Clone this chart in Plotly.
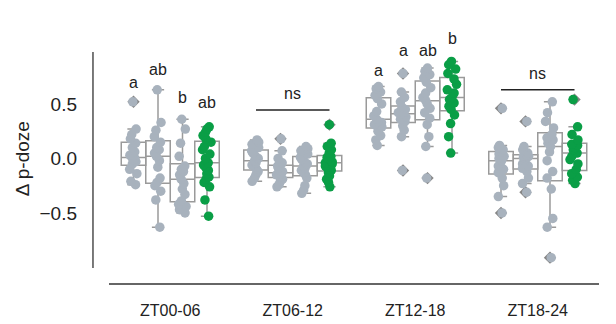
import plotly.graph_objects as go

groups = ["ZT00-06", "ZT06-12", "ZT12-18", "ZT18-24"]

# series 1 (gray)
s1_zt00 = [-0.24, -0.21, -0.14, -0.10, -0.05, -0.03, -0.01, 0.0, 0.01, 0.03, 0.06, 0.10, 0.14, 0.18, 0.22, 0.27, 0.52]
s1_zt06 = [-0.21, -0.18, -0.15, -0.12, -0.10, -0.08, -0.06, -0.04, -0.02, 0.0, 0.02, 0.05, 0.07, 0.10, 0.13, 0.15, 0.17]
s1_zt12 = [0.12, 0.17, 0.21, 0.25, 0.29, 0.31, 0.33, 0.34, 0.36, 0.39, 0.43, 0.50, 0.55, 0.58, 0.61, 0.64, 0.66]
s1_zt18 = [-0.50, -0.35, -0.25, -0.18, -0.13, -0.10, -0.07, -0.04, -0.02, 0.0, 0.02, 0.04, 0.06, 0.08, 0.10, 0.12, 0.46]
# series 2 (gray)
s2_zt00 = [-0.63, -0.38, -0.30, -0.25, -0.22, -0.18, -0.08, -0.02, 0.02, 0.05, 0.08, 0.10, 0.15, 0.20, 0.26, 0.33, 0.63]
s2_zt06 = [-0.26, -0.24, -0.21, -0.19, -0.17, -0.16, -0.15, -0.14, -0.13, -0.12, -0.11, -0.09, -0.07, -0.04, 0.0, 0.07, 0.18]
s2_zt12 = [-0.11, 0.20, 0.26, 0.30, 0.34, 0.36, 0.38, 0.40, 0.41, 0.42, 0.44, 0.45, 0.47, 0.52, 0.56, 0.61, 0.78]
s2_zt18 = [-0.31, -0.23, -0.18, -0.12, -0.09, -0.07, -0.05, -0.02, 0.0, 0.01, 0.02, 0.025, 0.03, 0.05, 0.08, 0.11, 0.34]
# series 3 (gray)
s3_zt00 = [-0.50, -0.47, -0.44, -0.42, -0.39, -0.33, -0.28, -0.23, -0.19, -0.15, -0.12, -0.10, -0.07, 0.02, 0.14, 0.27, 0.36]
s3_zt06 = [-0.32, -0.29, -0.25, -0.18, -0.15, -0.13, -0.11, -0.09, -0.07, -0.05, -0.03, -0.01, 0.01, 0.04, 0.07, 0.09, 0.11]
s3_zt12 = [-0.18, 0.11, 0.20, 0.31, 0.37, 0.42, 0.46, 0.50, 0.53, 0.56, 0.60, 0.65, 0.70, 0.74, 0.77, 0.80, 0.83]
s3_zt18 = [-0.91, -0.63, -0.55, -0.28, -0.18, -0.12, -0.02, 0.06, 0.11, 0.14, 0.17, 0.19, 0.22, 0.28, 0.34, 0.42, 0.52]
# series 4 (green)
s4_zt00 = [-0.53, -0.38, -0.26, -0.22, -0.19, -0.17, -0.14, -0.11, -0.08, -0.06, -0.04, 0.0, 0.04, 0.08, 0.11, 0.15, 0.18, 0.21, 0.24, 0.27, 0.29]
s4_zt06 = [-0.26, -0.22, -0.19, -0.16, -0.13, -0.11, -0.10, -0.08, -0.07, -0.05, -0.04, -0.03, -0.02, 0.0, 0.01, 0.02, 0.05, 0.08, 0.11, 0.14, 0.31]
s4_zt12 = [0.05, 0.20, 0.32, 0.40, 0.45, 0.48, 0.51, 0.54, 0.56, 0.60, 0.63, 0.68, 0.73, 0.78, 0.82, 0.86, 0.89]
s4_zt18 = [-0.23, -0.20, -0.17, -0.14, -0.10, -0.05, -0.01, 0.02, 0.05, 0.08, 0.10, 0.12, 0.13, 0.17, 0.22, 0.29, 0.54]

series = [
    [s1_zt00, s1_zt06, s1_zt12, s1_zt18],
    [s2_zt00, s2_zt06, s2_zt12, s2_zt18],
    [s3_zt00, s3_zt06, s3_zt12, s3_zt18],
    [s4_zt00, s4_zt06, s4_zt12, s4_zt18],
]
point_colors = ["#a8b2bd", "#a8b2bd", "#a8b2bd", "#0a9e46"]

# significance letters: (x position in category units, y value, text)
letter_x = [-0.3, -0.1, 0.1, 0.3, 1.7, 1.9, 2.1, 2.3]
letter_y = [0.70, 0.82, 0.56, 0.51, 0.81, 0.99, 0.99, 1.105]
letter_t = ["a", "ab", "b", "ab", "a", "a", "ab", "b"]
ns_x0 = [0.7, 2.7]
ns_x1 = [1.3, 3.3]
ns_line_y = [0.445, 0.63]
ns_text_y = [0.60, 0.78]

Y_RANGE = [-1.005, 0.977]
FONT = "Liberation Sans, Arial, sans-serif"


def to_paper(v):
    return (v - Y_RANGE[0]) / (Y_RANGE[1] - Y_RANGE[0])


fig = go.Figure()

# boxes with diamond fliers (main axes)
for h, vals in enumerate(series):
    xs, ys = [], []
    for g, v in zip(groups, vals):
        xs += [g] * len(v)
        ys += v
    fig.add_trace(go.Box(
        x=xs, y=ys, offsetgroup=str(h), boxpoints="outliers", jitter=0, pointpos=0,
        marker=dict(symbol="diamond", size=9.5, color="#858585"),
        line=dict(color="#9a9a9a", width=1.5), fillcolor="rgba(0,0,0,0)",
        whiskerwidth=0.5, showlegend=False, hoverinfo="skip",
        xaxis="x", yaxis="y",
    ))

# strip points on an overlaying axis so they are drawn above the fliers
for h, vals in enumerate(series):
    xs, ys = [], []
    for g, v in zip(groups, vals):
        xs += [g] * len(v)
        ys += v
    fig.add_trace(go.Box(
        x=xs, y=ys, offsetgroup=str(h), boxpoints="all", jitter=0.4, pointpos=0,
        marker=dict(size=9.5, color=point_colors[h], opacity=1),
        line=dict(color="rgba(0,0,0,0)", width=0), fillcolor="rgba(0,0,0,0)",
        showlegend=False, hoverinfo="skip",
        xaxis="x2", yaxis="y",
    ))

annotations = []
for x, y, t in zip(letter_x, letter_y, letter_t):
    annotations.append(dict(x=x, y=to_paper(y), xref="x", yref="paper", text=t, showarrow=False,
                            xanchor="center", yanchor="middle",
                            font=dict(size=16, color="#222", family=FONT)))
for x0, x1, ly, ty in zip(ns_x0, ns_x1, ns_line_y, ns_text_y):
    annotations.append(dict(x=(x0 + x1) / 2, y=to_paper(ty), xref="x", yref="paper", text="ns",
                            showarrow=False, xanchor="center", yanchor="middle",
                            font=dict(size=16, color="#222", family=FONT)))
    fig.add_shape(type="line", xref="x", yref="y", x0=x0, x1=x1, y0=ly, y1=ly,
                  line=dict(color="#222", width=1.5))

annotations.append(dict(x=-0.175, y=0.505, xref="paper", yref="paper", text="Δ p-doze",
                        textangle=-90, showarrow=False, xanchor="center", yanchor="middle",
                        font=dict(size=19, color="#222", family=FONT)))

# offset axis lines
fig.add_shape(type="line", xref="paper", yref="paper", x0=-0.0327, x1=-0.0327, y0=0, y1=1,
              line=dict(color="#333", width=1.3))
fig.add_shape(type="line", xref="paper", yref="paper", x0=0, x1=1, y0=-0.074, y1=-0.074,
              line=dict(color="#333", width=1.3))

fig.update_layout(
    width=616, height=324,
    margin=dict(l=109, r=17, t=52, b=56, autoexpand=False),
    paper_bgcolor="white", plot_bgcolor="white",
    boxmode="group", boxgap=0.2, boxgroupgap=0,
    annotations=annotations,
    font=dict(family=FONT, color="#222"),
    xaxis=dict(type="category", categoryorder="array", categoryarray=groups,
               range=[-0.5, 3.5], showline=False, showgrid=False, zeroline=False,
               automargin=False, ticks="",
               tickfont=dict(size=16, family=FONT, color="#222"), ticklabelstandoff=31),
    xaxis2=dict(type="category", categoryorder="array", categoryarray=groups,
                range=[-0.5, 3.5], overlaying="x", matches="x", visible=False,
                automargin=False, showgrid=False, zeroline=False),
    yaxis=dict(range=Y_RANGE, tickvals=[-0.5, 0, 0.5], ticktext=["−0.5", "0.0", "0.5"],
               showline=False, showgrid=False, zeroline=False, ticks="", automargin=False,
               tickfont=dict(size=19, family=FONT, color="#222"), ticklabelstandoff=31),
)

fig.write_html("out.html")
